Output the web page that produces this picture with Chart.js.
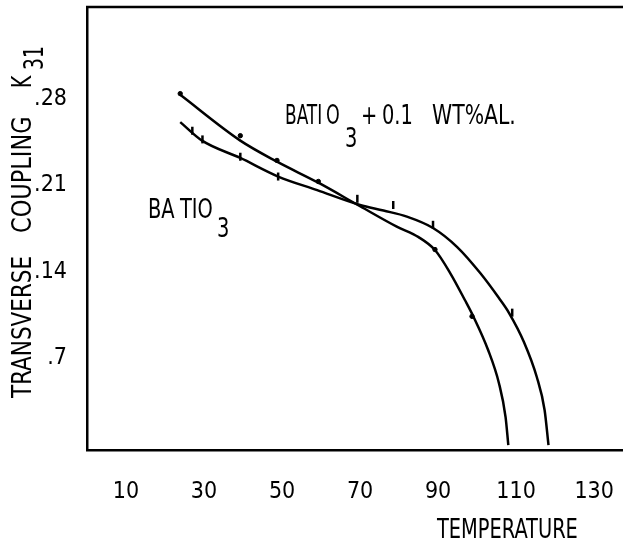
<!DOCTYPE html>
<html>
<head>
<meta charset="utf-8">
<script src="https://cdn.jsdelivr.net/npm/chart.js@4.4.1/dist/chart.umd.min.js"></script>
<style>
  html, body { margin: 0; padding: 0; background: #fff; }
</style>
</head>
<body>
<canvas id="chart" width="623" height="543"></canvas>
<script>
const FONT = '"DejaVu Sans Condensed", "Liberation Sans", sans-serif';

// axis ticks
const tempTicks = [10, 30, 50, 70, 90, 110, 130];
const couplingTicks = [0.07, 0.14, 0.21, 0.28];
const couplingLabels = ['.7', '.14', '.21', '.28'];

// BaTiO3 + 0.1 wt% Al : smooth curve
const alTemp = [23.9, 39.3, 48.7, 59.3, 70.0, 79.4, 85.0, 89.2, 93.1, 96.9, 99.1, 102.8, 105.6, 107.3, 108.0];
const alK31  = [0.283, 0.246, 0.229, 0.212, 0.193, 0.1765, 0.168, 0.1576, 0.139, 0.117, 0.1035, 0.077, 0.050, 0.0226, 0.0];
// BaTiO3 + 0.1 wt% Al : measured points
const alPtTemp = [23.9, 39.3, 48.7, 59.3, 89.2, 98.7];
const alPtK31  = [0.284, 0.250, 0.230, 0.213, 0.158, 0.104];

// BaTiO3 : smooth curve
const baTemp = [23.9, 29.5, 39.3, 49.0, 59.0, 70.0, 76.0, 82.0, 88.7, 94.9, 100.8, 105.6, 108.2, 112.0, 115.3, 117.3, 118.3];
const baK31  = [0.261, 0.246, 0.232, 0.217, 0.206, 0.194, 0.1895, 0.1846, 0.1754, 0.160, 0.139, 0.1188, 0.1067, 0.0833, 0.055, 0.0283, 0.0];
// BaTiO3 : measured points
const baPtTemp = [27.0, 29.6, 39.3, 49.0, 69.3, 78.5, 88.7, 109.0];
const baPtK31  = [0.254, 0.247, 0.233, 0.217, 0.199, 0.194, 0.178, 0.107];

function pairs(xs, ys) {
    return xs.map((x, i) => ({ x: x, y: ys[i] }));
}

// text squeezed horizontally by sx
function drawAt(ctx, text, x, y, sx) {
    ctx.save();
    ctx.translate(x, y);
    ctx.scale(sx, 1);
    ctx.fillText(text, 0, 0);
    ctx.restore();
}

const labelsPlugin = {
    id: 'labels',
    afterDraw(chart) {
        const ctx = chart.ctx;
        const a = chart.chartArea;
        ctx.save();
        // top frame line
        ctx.strokeStyle = '#000';
        ctx.lineWidth = 2.5;
        ctx.beginPath();
        ctx.moveTo(a.left - 1, a.top);
        ctx.lineTo(a.right, a.top);
        ctx.stroke();

        ctx.fillStyle = '#000';
        ctx.textBaseline = 'alphabetic';
        ctx.textAlign = 'left';
        ctx.font = '27px ' + FONT;
        drawAt(ctx, 'BATI', 285, 124, 0.7);
        drawAt(ctx, 'O', 326, 124, 0.72);
        drawAt(ctx, '3', 345, 147, 0.8);
        drawAt(ctx, '+', 361, 124, 0.8);
        drawAt(ctx, '0.1', 382, 124, 0.8);
        drawAt(ctx, 'WT%AL.', 432, 124, 0.84);

        drawAt(ctx, 'BA', 148, 218, 0.8);
        drawAt(ctx, 'TIO', 180, 218, 0.8);
        drawAt(ctx, '3', 217, 237, 0.8);

        // x axis title
        ctx.font = '26px ' + FONT;
        drawAt(ctx, 'TEMPERATURE', 437, 538, 0.83);

        // y axis title, rotated
        ctx.translate(31, 0);
        ctx.rotate(-Math.PI / 2);
        ctx.font = '26px ' + FONT;
        drawAt(ctx, 'TRANSVERSE', -398, 0, 0.92);
        drawAt(ctx, 'COUPLING', -233, 0, 0.96);
        drawAt(ctx, 'K', -88, 0, 0.8);
        drawAt(ctx, '31', -70, 12, 0.8);
        ctx.restore();
    }
};

new Chart(document.getElementById('chart'), {
    type: 'line',
    data: {
        datasets: [
            {
                label: 'BaTiO3 + 0.1 wt% Al',
                data: pairs(alTemp, alK31),
                borderColor: '#000',
                borderWidth: 2.5,
                pointRadius: 0,
                cubicInterpolationMode: 'monotone',
                fill: false
            },
            {
                label: 'BaTiO3',
                data: pairs(baTemp, baK31),
                borderColor: '#000',
                borderWidth: 2.5,
                pointRadius: 0,
                cubicInterpolationMode: 'monotone',
                fill: false
            },
            {
                type: 'scatter',
                label: 'Al points',
                data: pairs(alPtTemp, alPtK31),
                pointStyle: 'circle',
                pointRadius: 2.2,
                backgroundColor: '#000',
                borderColor: '#000',
                showLine: false
            },
            {
                type: 'scatter',
                label: 'BaTiO3 points',
                data: pairs(baPtTemp, baPtK31),
                pointStyle: 'line',
                rotation: 90,
                pointRadius: 4,
                borderWidth: 2.5,
                borderColor: '#000',
                showLine: false
            }
        ]
    },
    options: {
        responsive: false,
        animation: false,
        layout: { autoPadding: false, padding: { top: 7, right: 0, bottom: 0, left: 0 } },
        plugins: {
            legend: { display: false },
            tooltip: { enabled: false }
        },
        scales: {
            x: {
                type: 'linear',
                min: 0,
                max: 137.4,
                afterBuildTicks: s => { s.ticks = tempTicks.map(v => ({ value: v })); },
                afterFit: s => { s.height = 93; s.paddingLeft = 0; s.paddingRight = 0; },
                grid: { display: false, drawTicks: false },
                border: { display: true, color: '#000', width: 2.5 },
                ticks: {
                    color: '#000',
                    font: { family: FONT, size: 23 },
                    padding: 28,
                    maxRotation: 0,
                    autoSkip: false
                }
            },
            y: {
                type: 'linear',
                min: -0.004,
                max: 0.354,
                afterBuildTicks: s => { s.ticks = couplingTicks.map(v => ({ value: v })); },
                afterFit: s => { s.width = 87; s.paddingTop = 0; s.paddingBottom = 0; },
                grid: { display: false, drawTicks: false },
                border: { display: true, color: '#000', width: 2.5 },
                ticks: {
                    color: '#000',
                    font: { family: FONT, size: 23 },
                    padding: 20,
                    autoSkip: false,
                    callback: v => {
                        const i = couplingTicks.findIndex(t => Math.abs(t - v) < 1e-6);
                        return i >= 0 ? couplingLabels[i] : '';
                    }
                }
            }
        }
    },
    plugins: [labelsPlugin]
});
</script>
</body>
</html>
